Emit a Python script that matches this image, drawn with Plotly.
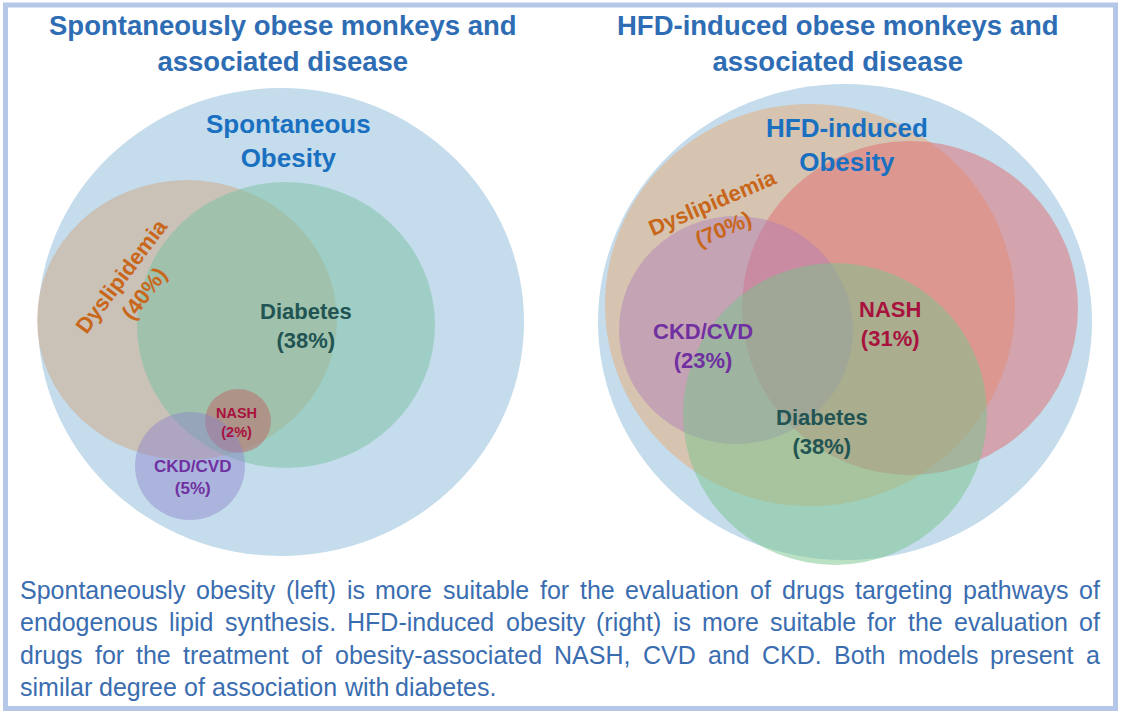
import plotly.graph_objects as go

# ---------------- data ----------------
titles = ["Spontaneously obese monkeys and<br>associated disease",
          "HFD-induced obese monkeys and<br>associated disease"]

left_sets = ["Spontaneous Obesity", "Dyslipidemia", "Diabetes", "NASH", "CKD/CVD"]
left_pcts = [None, 40, 38, 2, 5]

right_sets = ["HFD-induced Obesity", "Dyslipidemia", "NASH", "CKD/CVD", "Diabetes"]
right_pcts = [None, 70, 31, 23, 38]

caption_lines = [
    "Spontaneously obesity (left) is more suitable for the evaluation of drugs targeting pathways of",
    "endogenous lipid synthesis. HFD-induced obesity (right) is more suitable for the evaluation of",
    "drugs for the treatment of obesity-associated NASH, CVD and CKD. Both models present a",
    "similar degree of association with diabetes.",
]

# ---------------- geometry (diagram layout, pixel units) ----------------
left_cx = [281, 187, 286, 238, 190]
left_cy = [322, 320, 325, 421, 466]
left_rx = [243, 150, 149, 33, 55]
left_ry = [234, 140, 143, 32, 54]

right_cx = [845, 810, 910, 736, 835]
right_cy = [322, 305, 308, 330, 414]
right_rx = [247, 205, 168, 117, 152]
right_ry = [238, 201, 167, 114, 151]

left_lab_x = [288, 133, 306, 236, 192]
left_lab_y = [141, 285, 326, 422, 477]
left_lab_size = [26, 22, 22, 14.5, 17]
left_lab_angle = [0, -53, 0, 0, 0]

right_lab_x = [847, 718, 890, 703, 822]
right_lab_y = [145, 216, 324, 346, 432]
right_lab_size = [26, 22, 22, 22, 22]
right_lab_angle = [0, -23, 0, 0, 0]

# ---------------- styles ----------------
FONT = "Arial, Liberation Sans, sans-serif"
BLUE_BG = "rgb(197,220,236)"
left_fill = [BLUE_BG, "rgb(205,172,140)", "rgb(125,195,165)", "rgb(190,90,90)", "rgb(140,130,205)"]
left_op = [1.0, 0.55, 0.55, 0.45, 0.45]
right_fill = [BLUE_BG, "rgb(232,172,118)", "rgb(225,108,112)", "rgb(175,125,185)", "rgb(120,195,140)"]
right_op = [1.0, 0.5, 0.5, 0.45, 0.5]

label_color = {
    "Obesity": "#1a70c0",
    "Dyslipidemia": "#c8661a",
    "Diabetes": "#215452",
    "NASH": "#a8123e",
    "CKD/CVD": "#7030a0",
}


def color_for(name):
    for k, v in label_color.items():
        if k in name:
            return v
    return "#000"


def label_text(name, pct):
    if pct is None:
        return name.replace(" ", "<br>", 1) if "Obesity" in name else name
    return f"{name}<br>({pct}%)"


shapes = []
annotations = []

for cx, cy, rx, ry, fc, op in zip(left_cx, left_cy, left_rx, left_ry, left_fill, left_op):
    shapes.append(dict(type="circle", xref="x", yref="y", x0=cx - rx, x1=cx + rx,
                       y0=cy - ry, y1=cy + ry, fillcolor=fc, opacity=op,
                       line=dict(width=0), layer="below"))
for cx, cy, rx, ry, fc, op in zip(right_cx, right_cy, right_rx, right_ry, right_fill, right_op):
    shapes.append(dict(type="circle", xref="x", yref="y", x0=cx - rx, x1=cx + rx,
                       y0=cy - ry, y1=cy + ry, fillcolor=fc, opacity=op,
                       line=dict(width=0), layer="below"))

# frame
shapes.append(dict(type="rect", xref="x", yref="y", x0=5.5, x1=1115.5, y0=5, y1=708.5,
                   line=dict(color="#b4c7e7", width=5), fillcolor="rgba(0,0,0,0)"))

# titles
for t, x in zip(titles, [283, 838]):
    annotations.append(dict(x=x, y=43, xref="x", yref="y", text=f"<b>{t}</b>",
                            showarrow=False, xanchor="center", yanchor="middle",
                            font=dict(family=FONT, size=27.5, color="#2e6db4")))

# set labels
for names, pcts, xs, ys, sizes, angs in [
    (left_sets, left_pcts, left_lab_x, left_lab_y, left_lab_size, left_lab_angle),
    (right_sets, right_pcts, right_lab_x, right_lab_y, right_lab_size, right_lab_angle),
]:
    for n, p, x, y, s, a in zip(names, pcts, xs, ys, sizes, angs):
        annotations.append(dict(x=x, y=y, xref="x", yref="y", text=f"<b>{label_text(n, p)}</b>",
                                showarrow=False, xanchor="center", yanchor="middle",
                                textangle=a, borderpad=0, borderwidth=0,
                                font=dict(family=FONT, size=s, color=color_for(n))))

# caption (justified, word by word using Arial metrics)
W_ = {'a': 556, 'b': 556, 'c': 500, 'd': 556, 'e': 556, 'f': 278, 'g': 556, 'h': 556, 'i': 222,
      'j': 222, 'k': 500, 'l': 222, 'm': 833, 'n': 556, 'o': 556, 'p': 556, 'q': 556, 'r': 333,
      's': 500, 't': 278, 'u': 556, 'v': 500, 'w': 722, 'x': 500, 'y': 500, 'z': 500,
      'A': 667, 'B': 667, 'C': 722, 'D': 722, 'E': 667, 'F': 611, 'G': 778, 'H': 722, 'I': 278,
      'K': 667, 'N': 722, 'S': 667, 'V': 667, '(': 333, ')': 333, '.': 278, ',': 278, '-': 333,
      ' ': 278}
cap_size = 25
cap_x0, cap_x1 = 20, 1100
cap_y = [590, 622, 655, 687]
for i, line in enumerate(caption_lines):
    words = line.split(" ")
    ws = [sum(W_.get(c, 556) for c in w) * cap_size / 1000 for w in words]
    if i < len(caption_lines) - 1:
        gap = (cap_x1 - cap_x0 - sum(ws)) / (len(words) - 1)
    else:
        gap = W_[' '] * cap_size / 1000
    x = cap_x0
    for w, wd in zip(words, ws):
        annotations.append(dict(x=x, y=cap_y[i], xref="x", yref="y", text=w, showarrow=False,
                                xanchor="left", yanchor="middle", borderpad=0, borderwidth=0,
                                font=dict(family=FONT, size=cap_size, color="#3a6db0")))
        x += wd + gap

fig = go.Figure()
fig.add_trace(go.Scatter(x=[], y=[], showlegend=False, hoverinfo="skip"))
fig.update_layout(
    width=1122, height=714,
    margin=dict(l=0, r=0, t=0, b=0),
    paper_bgcolor="white", plot_bgcolor="white",
    xaxis=dict(range=[0, 1122], visible=False, fixedrange=True),
    yaxis=dict(range=[714, 0], visible=False, fixedrange=True),
    shapes=shapes, annotations=annotations, showlegend=False,
)
fig.write_html("out.html", config={"displayModeBar": False},
               post_script="document.body.style.margin='0px';document.body.style.overflow='hidden';")
